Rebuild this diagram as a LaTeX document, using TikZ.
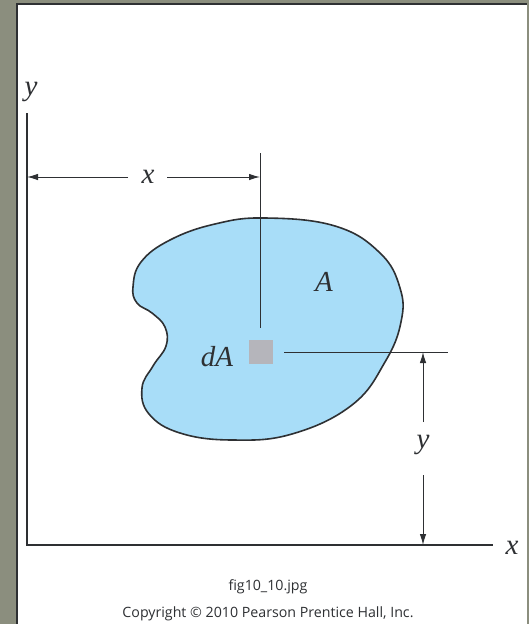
\documentclass[tikz,border=0pt]{standalone}
\usepackage{fontspec}
\setmainfont{Liberation Serif}
\newfontfamily\capfont{Open Sans}
\usetikzlibrary{arrows.meta}
\definecolor{frame}{HTML}{8B8E7E}
\definecolor{blob}{HTML}{A8DDF8}
\definecolor{sqgray}{HTML}{B5B5BB}
\definecolor{ink}{HTML}{2E3033}
\tikzset{
  axisline/.style={draw=ink, line width=1.8pt},
  dimline/.style={draw=ink, line width=1pt},
  dimarrow/.style={dimline, -{Latex[length=11pt,width=6.5pt]}},
  lab/.style={font=\fontsize{29}{29}\selectfont\itshape, text=ink, inner sep=0pt},
  captext/.style={font=\capfont\fontsize{14.2}{15}\selectfont, text=ink, inner sep=0pt}
}
\begin{document}
\begin{tikzpicture}[x=1pt,y=-1pt]
\useasboundingbox (0,0) rectangle (529,624);
\fill[frame] (0,0) rectangle (529,624);
\fill[white] (17,4) rectangle (527,624);
\draw[ink, line width=1.2pt] (17,624) -- (17,4) -- (527,4);
% blob
\draw[ink, line width=1.6pt, fill=blob] plot[smooth cycle, tension=0.7] coordinates {
 (265,218) (335,226) (380,253) (400,288) (401,322) (385,362) (352,405) (292,434) (232,440)
 (180,433) (149,414) (142,388) (153,366) (166,346) (165,327) (152,313) (137,303) (133,287)
 (141,262) (170,240) (215,224)};
% axes
\coordinate (O) at (27,545);
\coordinate (ytop) at (27,113);
\coordinate (xend) at (493,545);
\draw[axisline] (ytop) -- (O) -- (xend);
\node[lab] (ylabaxis) at (31,92) {y};
\node[lab] (xlabaxis) at (512,548) {x};
% x dimension
\coordinate (dimL) at (27,177);
\coordinate (dimR) at (260,177);
\coordinate (gapL) at (128,177);
\coordinate (gapR) at (167,177);
\node[lab] (xlab) at (148,177) {x};
\draw[dimarrow] (gapL) -- (dimL);
\draw[dimarrow] (gapR) -- (dimR);
\coordinate (vtop) at (260,153);
\coordinate (vbot) at (260,328);
\draw[dimline] (vtop) -- (vbot);
% dA square
\node[fill=sqgray, minimum size=24pt, inner sep=0pt] (sq) at (260.5,352) {};
\node[lab] (dA) at (217,357) {dA};
\node[lab] (A) at (324,282) {A};
\coordinate (hL) at (284,352);
\coordinate (hR) at (448,352);
\draw[dimline] (hL) -- (hR);
% y dimension
\coordinate (yt) at (423,352);
\coordinate (yb) at (423,545);
\coordinate (gapT) at (423,422);
\coordinate (gapB) at (423,475);
\node[lab] (ylab) at (423,445) {y};
\draw[dimarrow] (gapT) -- (yt);
\draw[dimarrow] (gapB) -- (yb);
% caption
\node[captext] (fig) at (268,587) {fig10\_10.jpg};
\node[captext] (copy) at (268,614) {Copyright © 2010 Pearson Prentice Hall, Inc.};
\end{tikzpicture}
\end{document}
